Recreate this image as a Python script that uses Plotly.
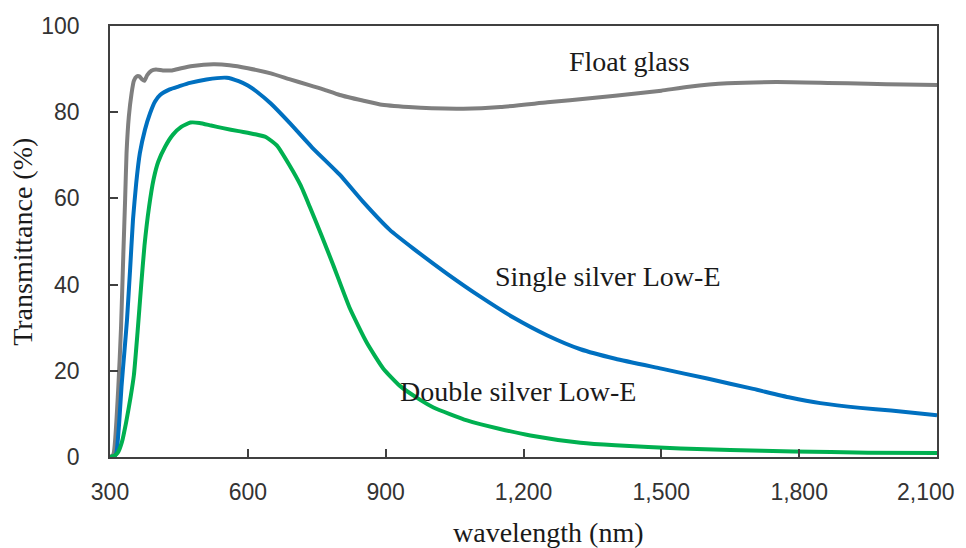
import plotly.graph_objects as go

# Float glass
float_wl = [300, 307, 318, 324, 329, 333, 336, 341, 347, 352, 358, 364, 370, 375, 381, 390, 400, 415,
            435, 455, 480, 525, 560, 600, 650, 692, 730, 764, 800, 850, 888, 950, 1000, 1069, 1150,
            1252, 1350, 1450, 1500, 1560, 1644, 1750, 1862, 1950, 2030, 2100]
float_t = [0, 0.5, 16, 30, 47, 60, 70.5, 79, 84.4, 87.3, 88.3, 88.3, 87.6, 87.3, 88.6, 89.6, 89.9, 89.7,
           89.7, 90.2, 90.7, 91.1, 90.9, 90.2, 89.0, 87.6, 86.4, 85.3, 84.0, 82.7, 81.8, 81.2, 80.9, 80.8, 81.2,
           82.3, 83.3, 84.4, 85.0, 85.9, 86.7, 87.0, 86.8, 86.6, 86.4, 86.3]

# Single silver Low-E
single_wl = [300, 310, 314, 320, 325, 331, 337, 344, 350, 357, 365, 376, 387, 398, 409, 430, 450, 474,
             510, 554, 580, 600, 619, 650, 691, 740, 800, 850, 909, 961, 1034, 1106, 1179, 1252, 1324,
             1400, 1500, 1600, 1700, 1780, 1846, 1933, 2000, 2100]
single_t = [0, 0.2, 1, 8, 16.3, 24, 31.8, 44, 55, 63.5, 70.5, 75.9, 79.7, 82.5, 84, 85.3, 86, 86.8,
            87.6, 88, 87.2, 86.2, 84.8, 82, 77.5, 71.8, 65.5, 59.3, 52.7, 48.3, 42.5, 37.2, 32.3, 28.2, 25,
            22.8, 20.5, 18.2, 15.8, 13.8, 12.5, 11.4, 10.8, 9.7]

# Double silver Low-E
double_wl = [300, 310, 318, 326, 335, 345, 352, 360, 368, 375, 385, 395, 405, 420, 437, 455, 475, 495,
             520, 546, 580, 615, 640, 663, 690, 715, 735, 760, 786, 822, 859, 895, 931, 970, 1004, 1077,
             1149, 1215, 1324, 1400, 1542, 1650, 1788, 1950, 2100]
double_t = [0, 0.3, 1.2, 3.5, 8, 14, 19, 29, 40, 49, 58, 64.5, 68.5, 72, 74.8, 76.6, 77.6, 77.5,
            76.9, 76.3, 75.6, 74.9, 74.2, 72.3, 67.8, 63, 58, 51.5, 44.5, 34.5, 26.5, 20.5, 16.5, 13.6, 11.5, 8.5,
            6.5, 5.0, 3.3, 2.7, 2.0, 1.6, 1.3, 1.0, 0.9]

x_ticks = [300, 600, 900, 1200, 1500, 1800, 2100]
x_tick_labels = ["300", "600", "900", "1,200", "1,500", "1,800", "2,100"]
y_ticks = [0, 20, 40, 60, 80, 100]

series_names = ["Float glass", "Single silver Low-E", "Double silver Low-E"]
series_colors = ["#7F7F7F", "#0070C0", "#00B050"]
label_x = [1430, 1384, 1188]
label_y = [91.8, 41.9, 15.2]

SERIF = "Liberation Serif, Times New Roman, serif"
SANS = "Liberation Sans, Arial, sans-serif"
tick_font = dict(family=SANS, size=23, color="#333333")

fig = go.Figure()
for wl, t, name, col in zip([float_wl, single_wl, double_wl], [float_t, single_t, double_t],
                            series_names, series_colors):
    fig.add_trace(go.Scatter(x=wl, y=t, mode="lines", name=name,
                             line=dict(color=col, width=4, shape="spline", smoothing=0.5)))

for name, lx, ly in zip(series_names, label_x, label_y):
    fig.add_annotation(x=lx, y=ly, xref="x", yref="y", text=name, showarrow=False,
                       font=dict(family=SERIF, size=28, color="#1a1a1a"),
                       xanchor="center", yanchor="middle")

fig.add_annotation(x=0.53, y=-0.176, xref="paper", yref="paper", text="wavelength (nm)",
                   showarrow=False, font=dict(family=SERIF, size=28, color="#1a1a1a"),
                   xanchor="center", yanchor="middle")
fig.add_annotation(x=-0.106, y=0.5, xref="paper", yref="paper", text="Transmittance (%)",
                   textangle=-90, showarrow=False, font=dict(family=SERIF, size=28, color="#1a1a1a"),
                   xanchor="center", yanchor="middle")

# last x tick label drawn flush with the right edge so it is not clipped
fig.add_annotation(x=x_ticks[-1], y=-0.081, xref="x", yref="paper", text=x_tick_labels[-1],
                   showarrow=False, font=tick_font, xanchor="right", yanchor="middle", xshift=20)

# page body has an 8px margin, so the figure is made 8px smaller and margins shifted
fig.update_layout(
    width=958, height=540,
    margin=dict(l=102, r=29, t=18, b=91),
    paper_bgcolor="white", plot_bgcolor="white",
    showlegend=False,
)
fig.update_xaxes(range=[300, 2100], tickvals=x_ticks, ticktext=x_tick_labels[:-1] + [""],
                 ticks="inside", ticklen=8,
                 tickwidth=1.5, tickcolor="#404040", showline=True, linecolor="#404040", linewidth=1.5,
                 mirror=True, showgrid=False, zeroline=False, ticklabelstandoff=14, automargin=False,
                 tickfont=tick_font)
fig.update_yaxes(range=[0, 100], tickvals=y_ticks, ticks="inside", ticklen=8,
                 tickwidth=1.5, tickcolor="#404040", showline=True, linecolor="#404040", linewidth=1.5,
                 mirror=True, showgrid=False, zeroline=False, ticklabelstandoff=24, automargin=False,
                 tickfont=tick_font)

fig.write_html("out.html")
